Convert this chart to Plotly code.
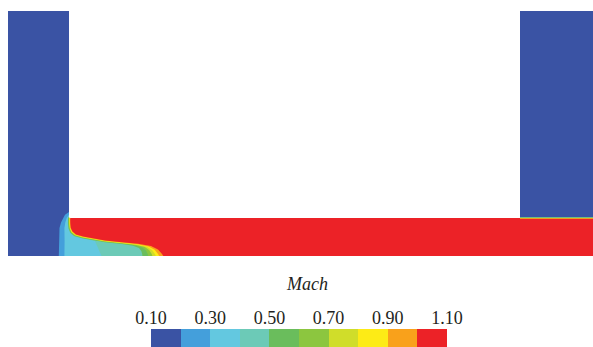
import plotly.graph_objects as go

# Mach contour levels and the fill colour of each band between them
levels = [0.10, 0.20, 0.30, 0.40, 0.50, 0.60, 0.70, 0.80, 0.90, 1.00, 1.10]
band_colors = ["#3a53a4", "#449fdb", "#63c8e0", "#6ccab7", "#6abd5c",
               "#8cc63f", "#d0dd2a", "#fdeb16", "#f9a11b", "#ec2227"]
tick_levels = [0.10, 0.30, 0.50, 0.70, 0.90, 1.10]

# Fluid domain outline (mm): left plenum, outlet channel, right plenum
domain_x = [0, 585, 585, 512, 512, 61, 61, 0]
domain_y = [0, 0, 245, 245, 38, 38, 245, 245]
channel_top = 38.0
plenum2_x = [512, 585]

# Iso-Mach lines in the channel entrance, listed from the wall/top to the floor
iso_020 = [(61, 44), (58.5, 42.6), (57, 41.3), (55.3, 38), (53, 33.5), (51.5, 28),
           (51, 15), (50.8, 0)]
iso_030 = [(61, 41.5), (60.3, 40.5), (58.7, 38), (57.3, 33.5), (56.4, 28),
           (56.6, 15), (56.4, 0)]
iso_040 = [(60.1, 39.2), (59.7, 37), (59.7, 33), (60.3, 27.4), (62.1, 23), (66, 19.6),
           (74, 17.5), (84, 15.6), (87, 15.1), (88.5, 12), (90.5, 7), (92.5, 2.5),
           (93.5, 0)]
iso_050 = [(60.4, 39), (60.0, 37), (60.0, 33), (60.6, 27.5), (62.4, 23.2), (66.2, 19.9),
           (74, 17.8), (84, 15.9), (97, 13.8), (114, 11.9), (125, 10.2), (131, 8.0),
           (133.3, 5.0), (134.2, 2.0), (134.4, 0)]
iso_060 = [(61.0, 38.7), (60.6, 37), (60.6, 33), (61.2, 27.6), (63.0, 23.6), (66.7, 20.3),
           (74.3, 18.3), (84, 16.4), (97, 14.3), (114, 12.4), (126.4, 10.8), (134.4, 8.6),
           (138.0, 5.4), (139.7, 2.0), (140.3, 0)]
iso_070 = [(61.5, 38.5), (61.1, 37), (61.1, 33), (61.7, 27.7), (63.4, 23.8), (67.1, 20.7),
           (74.5, 18.6), (84, 16.7), (97, 14.6), (114, 12.8), (127.4, 11.2), (136.8, 9.0),
           (141.3, 5.7), (143.7, 2.0), (144.4, 0)]
iso_080 = [(61.8, 38.4), (61.4, 37), (61.5, 33), (62.0, 27.8), (63.7, 24.0), (67.4, 20.9),
           (74.6, 18.9), (84, 17.0), (97, 14.9), (114, 13.1), (128.2, 11.5), (138.7, 9.3),
           (144.0, 6.0), (146.9, 2.0), (147.8, 0)]
iso_090 = [(62.2, 38.2), (61.8, 37), (61.8, 33), (62.4, 27.9), (64.1, 24.2), (67.6, 21.2),
           (74.8, 19.2), (84, 17.3), (97, 15.2), (114, 13.4), (129, 11.8), (140.6, 9.6),
           (146.7, 6.2), (150.0, 2.0), (151.1, 0)]
iso_100 = [(62.6, 38), (62.2, 37), (62.3, 33), (62.8, 28), (64.5, 24.5), (68, 21.5),
           (75, 19.5), (84, 17.6), (97, 15.5), (114, 13.8), (130, 12.2), (143, 10.0),
           (150, 6.5), (154, 2.0), (155.3, 0)]

# Height of each iso-Mach line where the channel flow meets the right plenum
iso_right_y = [39.0, 38.8, 38.6, 38.4, 38.2, 38.0, 37.8, 37.5, 37.2]

iso_lines = [iso_020, iso_030, iso_040, iso_050, iso_060, iso_070, iso_080, iso_090, iso_100]

fig = go.Figure()

# Slowest band fills the whole fluid domain
fig.add_trace(go.Scatter(
    x=domain_x, y=domain_y, mode="lines", fill="toself",
    fillcolor=band_colors[0], line=dict(width=0), hoverinfo="skip", showlegend=False))

# Each faster band covers the region downstream of its iso-Mach line
for k, (line, yr) in enumerate(zip(iso_lines, iso_right_y)):
    xs = [p[0] for p in line] + [585, 585, plenum2_x[0], plenum2_x[0], 61, line[0][0]]
    ys = [p[1] for p in line] + [0, yr, yr, channel_top, channel_top, line[0][1]]
    fig.add_trace(go.Scatter(
        x=xs, y=ys, mode="lines", fill="toself", fillcolor=band_colors[k + 1],
        line=dict(width=0), hoverinfo="skip", showlegend=False))

# Colour bar drawn as a row of bars, one per band
mids = [(a + b) / 2 for a, b in zip(levels[:-1], levels[1:])]
fig.add_trace(go.Bar(
    x=mids, y=[1] * len(mids), width=[levels[1] - levels[0]] * len(mids),
    marker=dict(color=band_colors, line=dict(width=0)),
    xaxis="x2", yaxis="y2", hoverinfo="skip", showlegend=False))

W, H = 593, 347
serif = "Liberation Serif, Times New Roman, serif"
fig.update_layout(
    template="none",
    autosize=False,
    width=W, height=H,
    showlegend=False,
    margin=dict(l=0, r=0, t=0, b=0, pad=0, autoexpand=False),
    paper_bgcolor="white", plot_bgcolor="white",
    xaxis=dict(domain=[8 / W, 1], range=[0, 585], visible=False, fixedrange=True,
               automargin=False),
    yaxis=dict(domain=[91 / H, 336 / H], range=[0, 245], visible=False, fixedrange=True,
               automargin=False),
    xaxis2=dict(domain=[151 / W, 447 / W], range=[levels[0], levels[-1]],
                anchor="y2", side="top", showgrid=False, zeroline=False,
                showline=False, ticks="", tickmode="array", tickvals=tick_levels,
                ticktext=["%.2f" % v for v in tick_levels], automargin=False,
                tickfont=dict(family=serif, size=18, color="#231f20")),
    yaxis2=dict(domain=[0, 18 / H], range=[0, 1], visible=False, fixedrange=True,
                anchor="x2", automargin=False),
    bargap=0,
    annotations=[dict(text="<i>Mach</i>", x=307 / W, y=(H - 284) / H,
                      xref="paper", yref="paper", showarrow=False,
                      xanchor="center", yanchor="middle",
                      font=dict(family=serif, size=18, color="#231f20"))],
)

fig.write_html("out.html", config={"responsive": False, "displayModeBar": False})
